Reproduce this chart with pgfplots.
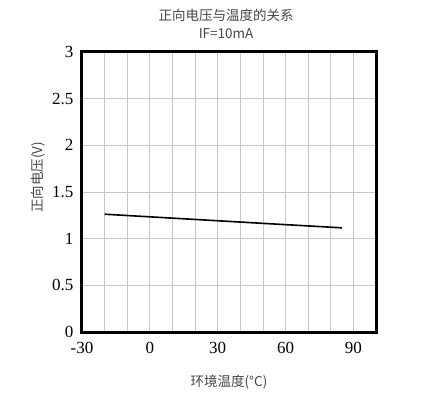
\documentclass[border=0pt]{standalone}
\usepackage{pgfplots}
\pgfplotsset{compat=1.18}
\usepackage{fontspec}
\setmainfont{Liberation Serif}
\newfontfamily\cjk{Noto Sans CJK SC}
\definecolor{gridgray}{RGB}{200,200,200}
\definecolor{titlegray}{RGB}{70,70,70}

\begin{document}
\begin{tikzpicture}
  \path[use as bounding box] (-82bp,-68bp) rectangle (350bp,332bp);
  \begin{axis}[
    scale only axis,
    width=294bp, height=280bp,
    xmin=-30, xmax=100,
    ymin=0, ymax=3,
    xtick={-30,0,30,60,90},
    minor xtick={-20,-10,10,20,40,50,70,80,100},
    ytick={0,0.5,...,3},
    yticklabels={0,0.5,1,1.5,2,2.5,3},
    grid=both,
    major grid style={gridgray, line width=0.8bp},
    minor grid style={gridgray, line width=0.8bp},
    major tick length=0pt, minor tick length=0pt,
    axis line style={line width=3bp, black},
    tick label style={font=\fontsize{17bp}{19bp}\selectfont},
    /pgf/number format/assume math mode=true,
    xticklabel style={yshift=-7bp},
    yticklabel style={xshift=-5bp},
    xlabel={环境温度(°C)},
    ylabel={正向电压(V)},
    label style={font=\cjk\fontsize{13.5bp}{15bp}\selectfont, text=titlegray},
    xlabel style={at={(rel axis cs:0.5,0)}, anchor=center, yshift=-50bp},
    ylabel style={at={(rel axis cs:0,0.553)}, anchor=center, yshift=44bp},
    title={正向电压与温度的关系\\IF=10mA},
    title style={font=\cjk\fontsize{13.5bp}{18bp}\selectfont, text=titlegray, align=center, anchor=center, at={(rel axis cs:0.49,1)}, yshift=22bp},
  ]
    \addplot[black, line width=1.6bp, no marks] coordinates {
      (-20,1.262) (0,1.234) (25,1.199) (50,1.164) (85,1.116)
    };
  \end{axis}
\end{tikzpicture}
\end{document}
